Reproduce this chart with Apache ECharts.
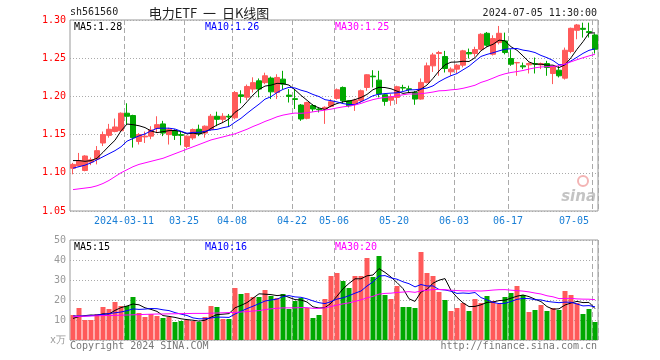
<!DOCTYPE html>
<html><head><meta charset="utf-8">
<script src="https://cdn.jsdelivr.net/npm/echarts@6/dist/echarts.min.js"></script>
<style>html,body{margin:0;padding:0;background:#fff}#c{width:660px;height:360px}</style>
</head><body><div id="c"></div>
<script>
const dates = [
'2024-02-27','2024-02-28','2024-02-29','2024-03-01',
'2024-03-04','2024-03-05','2024-03-06','2024-03-07','2024-03-08',
'2024-03-11','2024-03-12','2024-03-13','2024-03-14','2024-03-15',
'2024-03-18','2024-03-19','2024-03-20','2024-03-21','2024-03-22',
'2024-03-25','2024-03-26','2024-03-27','2024-03-28','2024-03-29',
'2024-04-01','2024-04-02','2024-04-03',
'2024-04-08','2024-04-09','2024-04-10','2024-04-11','2024-04-12',
'2024-04-15','2024-04-16','2024-04-17','2024-04-18','2024-04-19',
'2024-04-22','2024-04-23','2024-04-24','2024-04-25','2024-04-26',
'2024-04-29','2024-04-30',
'2024-05-06','2024-05-07','2024-05-08','2024-05-09','2024-05-10',
'2024-05-13','2024-05-14','2024-05-15','2024-05-16','2024-05-17',
'2024-05-20','2024-05-21','2024-05-22','2024-05-23','2024-05-24',
'2024-05-27','2024-05-28','2024-05-29','2024-05-30','2024-05-31',
'2024-06-03','2024-06-04','2024-06-05','2024-06-06','2024-06-07',
'2024-06-11','2024-06-12','2024-06-13','2024-06-14',
'2024-06-17','2024-06-18','2024-06-19','2024-06-20','2024-06-21',
'2024-06-24','2024-06-25','2024-06-26','2024-06-27','2024-06-28',
'2024-07-01','2024-07-02','2024-07-03','2024-07-04','2024-07-05'];

const tickDates = ['2024-03-11','2024-03-25','2024-04-08','2024-04-22','2024-05-06','2024-05-20','2024-06-03','2024-06-17','2024-07-05'];
const tickLabels = ['2024-03-11','03-25','04-08','04-22','05-06','05-20','06-03','06-17','07-05'];

const openPrices = [1.106,1.109,1.103,1.114,1.118,1.139,1.149,1.154,1.155,1.178,
1.175,1.141,1.147,1.148,1.158,1.164,1.150,1.155,1.150,1.1345,
1.1456,1.157,1.152,1.157,1.174,1.170,1.174,1.172,1.202,1.199,
1.2096,1.2204,1.218,1.224,1.2052,1.2226,1.2017,1.197,1.1887,1.1713,
1.188,1.1835,1.1835,1.187,1.1974,1.2117,1.1943,1.19,1.1943,1.2117,
1.2265,1.2213,1.2022,1.195,1.1987,1.2117,1.21,1.2052,1.1965,1.2183,
1.24,1.2561,1.2522,1.2322,1.2357,1.2409,1.2574,1.2561,1.2617,1.2826,
1.2552,1.2704,1.2726,1.2496,1.2439,1.24,1.2413,1.243,1.2413,1.243,
1.23,1.2343,1.2239,1.2587,1.2865,1.2891,1.2848,1.2804];
const closePrices = [1.111,1.116,1.122,1.117,1.129,1.150,1.157,1.160,1.178,1.174,
1.146,1.150,1.148,1.156,1.163,1.152,1.157,1.149,1.149,1.148,
1.1566,1.151,1.161,1.174,1.170,1.174,1.173,1.205,1.200,1.213,
1.218,1.2096,1.227,1.206,1.2248,1.216,1.200,1.196,1.1704,1.192,
1.1835,1.1826,1.1857,1.193,1.2087,1.1943,1.1878,1.195,1.2074,1.2283,
1.2257,1.203,1.1935,1.1996,1.2126,1.2109,1.209,1.1965,1.2183,1.24,
1.2543,1.2574,1.2365,1.2357,1.2409,1.2596,1.2557,1.2613,1.2813,1.267,
1.2757,1.2826,1.2574,1.2422,1.2443,1.2387,1.243,1.2422,1.243,1.2378,
1.2387,1.227,1.2604,1.2891,1.2935,1.2878,1.2835,1.2617];
const lowPrices = [1.098,1.108,1.102,1.110,1.111,1.135,1.146,1.153,1.155,1.163,
1.133,1.137,1.139,1.144,1.152,1.148,1.137,1.143,1.136,1.132,
1.143,1.148,1.146,1.155,1.161,1.165,1.160,1.170,1.191,1.195,
1.205,1.1987,1.216,1.1965,1.1965,1.2096,1.192,1.1835,1.168,1.170,
1.180,1.179,1.164,1.1857,1.1957,1.191,1.1857,1.181,1.192,1.2074,
1.2117,1.1987,1.1878,1.1878,1.19,1.2074,1.205,1.189,1.1957,1.217,
1.232,1.227,1.2313,1.227,1.2304,1.238,1.2496,1.252,1.26,1.265,
1.2535,1.268,1.255,1.24,1.227,1.2357,1.23,1.23,1.2357,1.227,
1.2161,1.2248,1.222,1.2565,1.2748,1.277,1.277,1.2561];
const highPrices = [1.113,1.126,1.123,1.120,1.135,1.154,1.164,1.171,1.179,1.191,
1.176,1.152,1.154,1.161,1.174,1.168,1.159,1.157,1.154,1.149,
1.158,1.163,1.162,1.177,1.180,1.178,1.177,1.207,1.208,1.2155,
1.225,1.2235,1.231,1.226,1.229,1.2335,1.2096,1.2096,1.19,1.193,
1.19,1.1857,1.187,1.1965,1.2104,1.213,1.195,1.197,1.209,1.229,
1.2343,1.2335,1.2035,1.203,1.214,1.2152,1.214,1.207,1.2235,1.2443,
1.257,1.2596,1.2596,1.238,1.2425,1.2609,1.2626,1.265,1.2826,1.2843,
1.28,1.2922,1.2835,1.2617,1.2452,1.2443,1.2443,1.2509,1.2443,1.2465,
1.24,1.24,1.2639,1.29,1.2948,1.2965,1.2965,1.2822];
const volumes = [12.5,16,10,10,13,16.5,15.5,19,17,17,
21.5,13.5,11.5,13,12,11,11.5,9,9.5,10,
9.5,9,11.5,17,16.5,10.5,10.5,26,23,23.5,
21.5,21.5,25,22,21,23,15.5,19.5,21,16,
11,12.5,20.5,32,33.5,29.5,26,32,32,41,
31.5,42,22.5,20.5,27,16.5,16.5,16,44,33.5,
32,24,20,14.5,16,18.5,14.5,20.5,18.5,22,
19.5,18,21.5,23.5,27,22.5,14,15,17.5,14.5,
16,15,24.5,22.5,18.5,13,15.5,9];

// moving-average values at the left edge (they depend on days before the window)
const priceMa5Lead = [1.116,1.116,1.115,1.116];
const priceMa10Lead = [1.106,1.108,1.110,1.113,1.117,1.121,1.125,1.129,1.134];
const priceMa30Lead = [1.078,1.079,1.080,1.081,1.083,1.086,1.090,1.095,1.100,1.104,
1.108,1.111,1.113,1.115,1.117,1.119,1.122,1.125,1.128,1.131,
1.134,1.137,1.140,1.143,1.145,1.147,1.149,1.151,1.154];
const volMa5Lead = [10.8,11.7,12.2,12.5];
const volMa10Lead = [12.0,12.0,12.0,12.2,12.5,12.8,13.2,13.6,14.0];
const volMa30Lead = [11.6,11.8,11.9,12.0,12.1,12.2,12.3,12.3,12.4,12.5,
12.6,12.7,12.8,12.9,13.0,13.0,13.1,13.1,13.2,13.2,
13.3,13.3,13.3,13.4,13.5,13.6,13.7,13.8,14.0];

function movingAvg(vals, n, lead) {
  return vals.map((v, i) => {
    if (i < n - 1) return lead[i];
    let s = 0;
    for (let k = i - n + 1; k <= i; k++) s += vals[k];
    return +(s / n).toFixed(4);
  });
}
const pMa5 = movingAvg(closePrices, 5, priceMa5Lead);
const pMa10 = movingAvg(closePrices, 10, priceMa10Lead);
const pMa30 = movingAvg(closePrices, 30, priceMa30Lead);
const vMa5 = movingAvg(volumes, 5, volMa5Lead);
const vMa10 = movingAvg(volumes, 10, volMa10Lead);
const vMa30 = movingAvg(volumes, 30, volMa30Lead);

const UP = '#ff5a5a', DOWN = '#00a800';
const MONO = '"DejaVu Sans Mono", "Liberation Mono", monospace';
const candleData = dates.map((d, i) => [openPrices[i], closePrices[i], lowPrices[i], highPrices[i]]);
const volData = volumes.map((v, i) => ({value: v, itemStyle: {color: closePrices[i] >= openPrices[i] ? UP : DOWN}}));
const tickSet = new Set(tickDates);
const labelMap = {}; tickDates.forEach((d, i) => labelMap[d] = tickLabels[i]);
const trunc2 = v => (Math.floor(v * 100 + 1e-9) / 100).toFixed(2);
const trunc0 = v => String(Math.floor(v + 1e-9));
const last = a => a[a.length - 1];

const chart = echarts.init(document.getElementById('c'), null, {renderer: 'canvas'});
const splitX = {show: true, interval: (idx) => tickSet.has(dates[idx]), lineStyle: {color: '#aaa', type: [5, 3], width: 1}};
const lineS = (name, data, color, xi) => ({name, type: 'line', data, xAxisIndex: xi, yAxisIndex: xi, showSymbol: false, symbol: 'none', z: 5,
  lineStyle: {color, width: 1}, itemStyle: {color}, silent: true});

chart.setOption({
  animation: false,
  grid: [
    {left: 70, top: 20, width: 528, height: 191, show: true, borderColor: '#999', borderWidth: 1, backgroundColor: 'transparent'},
    {left: 70, top: 240, width: 528, height: 100, show: true, borderColor: '#999', borderWidth: 1, backgroundColor: 'transparent'}
  ],
  xAxis: [
    {type: 'category', data: dates, gridIndex: 0, boundaryGap: true,
     axisLine: {show: false}, axisTick: {show: false},
     axisLabel: {interval: (idx) => tickSet.has(dates[idx]), formatter: v => labelMap[v] || '', color: '#1a7fd6',
       fontFamily: MONO, fontSize: 10, margin: 5, padding: [0, 6, 0, 0], alignMaxLabel: 'right'},
     splitLine: splitX},
    {type: 'category', data: dates, gridIndex: 1, boundaryGap: true,
     axisLine: {show: false}, axisTick: {show: false}, axisLabel: {show: false},
     splitLine: splitX}
  ],
  yAxis: [
    {type: 'value', gridIndex: 0, min: 1.05, max: 1.30, interval: 0.05, scale: true,
     axisLine: {show: false}, axisTick: {show: false},
     axisLabel: {color: '#ff0000', fontFamily: MONO, fontSize: 10, margin: 4, formatter: v => v.toFixed(2)},
     splitLine: {show: true, lineStyle: {color: '#aaa', type: [1, 2], width: 1}}},
    {type: 'value', gridIndex: 1, min: 0, max: 50, interval: 10,
     axisLine: {show: false}, axisTick: {show: false},
     axisLabel: {color: '#999', fontFamily: MONO, fontSize: 10, margin: 4, formatter: v => v === 0 ? 'x万' : String(v)},
     splitLine: {show: true, lineStyle: {color: '#aaa', type: [1, 2], width: 1}}}
  ],
  series: [
    {name: 'K', type: 'candlestick', data: candleData, xAxisIndex: 0, yAxisIndex: 0, barWidth: 5, z: 3,
     itemStyle: {color: UP, color0: DOWN, borderColor: UP, borderColor0: DOWN, borderWidth: 1}, silent: true},
    lineS('MA5', pMa5, '#000000', 0),
    lineS('MA10', pMa10, '#0000ff', 0),
    lineS('MA30', pMa30, '#ff00ff', 0),
    {name: 'VOL', type: 'bar', data: volData, xAxisIndex: 1, yAxisIndex: 1, barWidth: 5, z: 3, silent: true},
    lineS('VMA5', vMa5, '#000000', 1),
    lineS('VMA10', vMa10, '#0000ff', 1),
    lineS('VMA30', vMa30, '#ff00ff', 1)
  ],
  graphic: [
    {type: 'text', left: 70, top: 7, style: {text: 'sh561560', fill: '#222', font: '10px ' + MONO}},
    {type: 'text', x: 209, y: 13, style: {text: '电力ETF  一  日K线图', fill: '#222', font: '13px "Noto Sans CJK SC"', textAlign: 'center', textVerticalAlign: 'middle'}},
    {type: 'text', x: 597, y: 13, style: {text: '2024-07-05 11:30:00', fill: '#222', font: '10px ' + MONO, textAlign: 'right', textVerticalAlign: 'middle'}},
    {type: 'text', x: 74, y: 27, z: 10, style: {text: 'MA5:' + trunc2(last(pMa5)), fill: '#000', font: '10px ' + MONO, textVerticalAlign: 'middle'}},
    {type: 'text', x: 205, y: 27, z: 10, style: {text: 'MA10:' + trunc2(last(pMa10)), fill: '#0000ff', font: '10px ' + MONO, textVerticalAlign: 'middle'}},
    {type: 'text', x: 335, y: 27, z: 10, style: {text: 'MA30:' + trunc2(last(pMa30)), fill: '#ff00ff', font: '10px ' + MONO, textVerticalAlign: 'middle'}},
    {type: 'text', x: 74, y: 247, z: 10, style: {text: 'MA5:' + trunc0(last(vMa5)), fill: '#000', font: '10px ' + MONO, textVerticalAlign: 'middle'}},
    {type: 'text', x: 205, y: 247, z: 10, style: {text: 'MA10:' + trunc0(last(vMa10)), fill: '#0000ff', font: '10px ' + MONO, textVerticalAlign: 'middle'}},
    {type: 'text', x: 335, y: 247, z: 10, style: {text: 'MA30:' + trunc0(last(vMa30)), fill: '#ff00ff', font: '10px ' + MONO, textVerticalAlign: 'middle'}},
    {type: 'text', x: 70, y: 346, style: {text: 'Copyright 2024 SINA.COM', fill: '#777', font: '10px ' + MONO, textVerticalAlign: 'middle'}},
    {type: 'text', x: 597, y: 346, style: {text: 'http://finance.sina.com.cn', fill: '#777', font: '10px ' + MONO, textAlign: 'right', textVerticalAlign: 'middle'}},
    {type: 'circle', shape: {cx: 583, cy: 181, r: 5}, style: {fill: 'none', stroke: '#f3b4b4', lineWidth: 2}},
    {type: 'text', x: 596, y: 197, style: {text: 'sina', fill: '#c4c4c4', font: 'italic bold 15px "DejaVu Sans"', textAlign: 'right', textVerticalAlign: 'middle'}}
  ]
});
</script></body></html>
